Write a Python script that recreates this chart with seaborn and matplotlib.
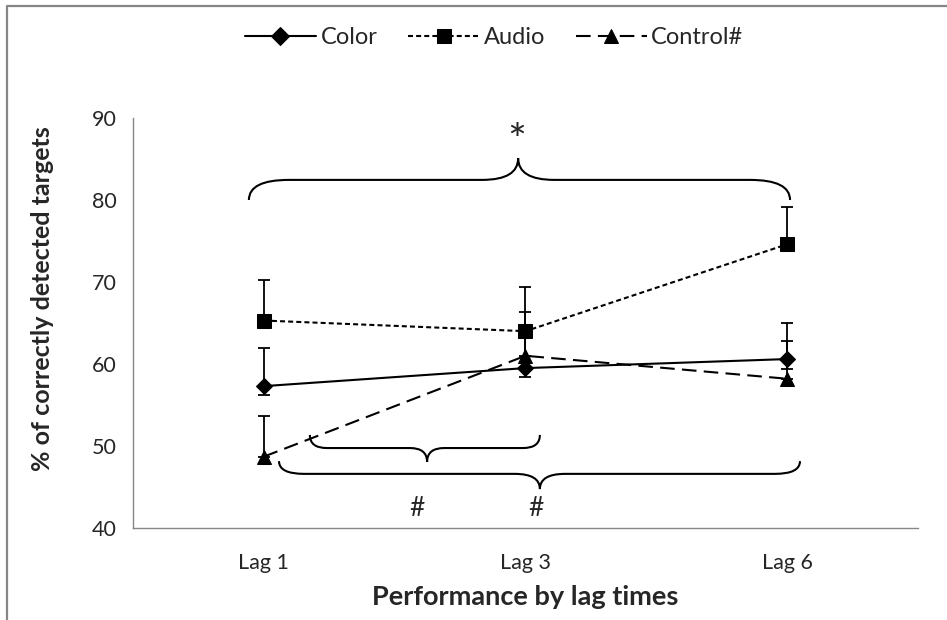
import numpy as np
import pandas as pd
import matplotlib
matplotlib.use("Agg")
import matplotlib.pyplot as plt
from matplotlib.path import Path
from matplotlib.patches import PathPatch
from matplotlib.lines import Line2D
import seaborn as sns

# data
lags = ["Lag 1", "Lag 3", "Lag 6"]
groups = ["Color", "Audio", "Control#"]
color_vals = [57.3, 59.5, 60.6]
audio_vals = [65.3, 64.0, 74.6]
control_vals = [48.7, 61.0, 58.2]
# error bars (upper, lower)
color_up = [4.7, 4.5, 4.4]
color_lo = [1.1, 1.1, 1.2]
audio_up = [4.9, 5.4, 4.5]
audio_lo = [0, 0, 0]
control_up = [4.9, 5.4, 4.6]
control_lo = [0, 0, 0]

vals = {"Color": color_vals, "Audio": audio_vals, "Control#": control_vals}
ups = {"Color": color_up, "Audio": audio_up, "Control#": control_up}
los = {"Color": color_lo, "Audio": audio_lo, "Control#": control_lo}

rows = []
for g in groups:
    for i, lag in enumerate(lags):
        rows.append({"group": g, "pos": i, "lag": lag, "value": vals[g][i]})
df = pd.DataFrame(rows)

sns.set_style("white")
plt.rcParams["font.family"] = ["Lato", "DejaVu Sans"]

fig = plt.figure(figsize=(9.47, 6.2), dpi=100)
ax = fig.add_axes([0.1404, 0.1484, 0.829, 0.6613])

markers = {"Color": "D", "Audio": "s", "Control#": "^"}
dashes = {"Color": "", "Audio": (2.4, 1.5), "Control#": (7, 3.5)}
sns.lineplot(data=df, x="pos", y="value", style="group", style_order=groups,
             markers=markers, dashes=dashes, color="black", linewidth=1.5,
             markersize=9.5, markeredgecolor="black", ax=ax)
# marker sizes per series
for ln in ax.lines:
    if ln.get_marker() == "D":
        ln.set_markersize(8)
    elif ln.get_marker() == "^":
        ln.set_markersize(10.5)

for g in groups:
    ax.errorbar(range(len(lags)), vals[g], yerr=[los[g], ups[g]], fmt="none",
                ecolor="black", elinewidth=1.3, capsize=4.5, capthick=1.3, zorder=1)

ax.set_xlim(-0.5, len(lags) - 0.5)
ax.set_ylim(40, 90)
ax.set_yticks(range(40, 91, 10))
ax.set_xticks(range(len(lags)))
ax.set_xticklabels(lags)
ax.set_xticks(np.arange(-0.5, len(lags), 1), minor=True)
ax.tick_params(axis="x", which="major", length=0, pad=18, labelsize=15.5)
ax.tick_params(axis="x", which="minor", length=6, color="#868686", width=1)
ax.tick_params(axis="y", length=6, color="#868686", width=1, labelsize=15.5, pad=6)
for s in ["top", "right"]:
    ax.spines[s].set_visible(False)
for s in ["left", "bottom"]:
    ax.spines[s].set_color("#868686")
    ax.spines[s].set_linewidth(1)

ax.set_xlabel("Performance by lag times", fontsize=19.5, fontweight="bold", labelpad=9)
ax.set_ylabel("% of correctly detected targets", fontsize=18, fontweight="bold")
ax.yaxis.set_label_coords(-0.10, 0.56)


def brace(x0, x1, xc, y_end, y_mid, y_tip, r_end, r_mid):
    verts = [(x0, y_end), (x0, y_mid), (x0 + r_end, y_mid),
             (xc - r_mid, y_mid),
             (xc, y_mid), (xc, y_tip),
             (xc, y_mid), (xc + r_mid, y_mid),
             (x1 - r_end, y_mid),
             (x1, y_mid), (x1, y_end)]
    codes = [Path.MOVETO, Path.CURVE3, Path.CURVE3, Path.LINETO,
             Path.CURVE3, Path.CURVE3, Path.CURVE3, Path.CURVE3,
             Path.LINETO, Path.CURVE3, Path.CURVE3]
    ax.add_patch(PathPatch(Path(verts, codes), fill=False, lw=1.5,
                           edgecolor="black", clip_on=False))


brace(-0.057, 2.011, 0.972, 80.0, 82.45, 85.1, 0.153, 0.138)
brace(0.176, 1.055, 0.624, 51.35, 49.75, 48.05, 0.065, 0.065)
brace(0.058, 2.049, 1.055, 48.15, 46.6, 44.75, 0.096, 0.096)

ax.text(0.968, 87.0, "*", ha="center", va="center", fontsize=32)
ax.text(0.585, 42.4, "#", ha="center", va="center", fontsize=19)
ax.text(1.04, 42.4, "#", ha="center", va="center", fontsize=19)

sns.move_legend(ax, "center", bbox_to_anchor=(0.522, 1 - 38 / 620),
                bbox_transform=fig.transFigure, ncol=3, frameon=False,
                title=None, fontsize=17, handlelength=3.0, columnspacing=1.3,
                handletextpad=0.2)

fig.add_artist(Line2D([7 / 947, 7 / 947, 1], [0, 1 - 6 / 620, 1 - 6 / 620],
                      transform=fig.transFigure, color="#868686", lw=1.6))

fig.savefig("out.png", dpi=100)
